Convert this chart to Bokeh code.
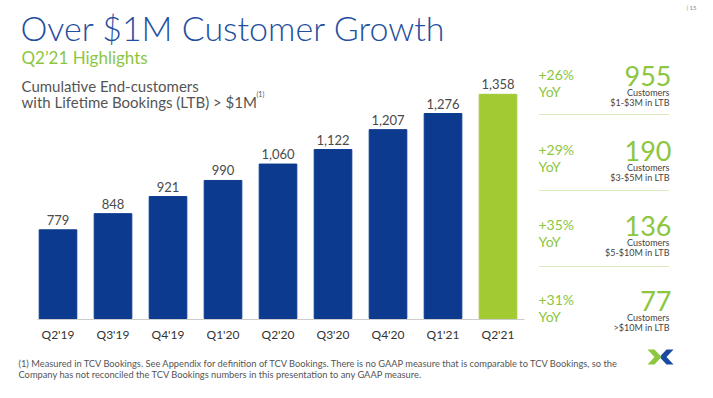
from bokeh.plotting import figure
from bokeh.models import Range1d, Label, Arrow, PolyAnnotation, ColumnDataSource
from bokeh.core.properties import value
from bokeh.embed import file_html
from bokeh.resources import INLINE

# ---- data ----
quarters = ["Q2'19", "Q3'19", "Q4'19", "Q1'20", "Q2'20", "Q3'20", "Q4'20", "Q1'21", "Q2'21"]
customers = [779, 848, 921, 990, 1060, 1122, 1207, 1276, 1358]
value_labels = ["779", "848", "921", "990", "1,060", "1,122", "1,207", "1,276", "1,358"]

growth = ["+26%", "+29%", "+35%", "+31%"]
segment_counts = ["955", "190", "136", "77"]
segment_ranges = ["$1-$3M in LTB", "$3-$5M in LTB", "$5-$10M in LTB", ">$10M in LTB"]

footnote = [
    "(1) Measured in TCV Bookings. See Appendix for definition of TCV Bookings. There is no GAAP measure that is comparable to TCV Bookings, so the",
    "Company has not reconciled the TCV Bookings numbers in this presentation to any GAAP measure.",
]

# ---- style ----
BLUE = "#0B3A8E"
TITLE_BLUE = "#1F50A0"
GREEN = "#8DC63F"
GREEN_BAR = "#A2CA32"
GRAY = "#555555"
FONT = "Lato"
LIGHT = "Lato Light"
BASE = 400

colors = [BLUE] * (len(customers) - 1) + [GREEN_BAR]
src = ColumnDataSource(dict(idx=list(range(len(quarters))), v=customers,
                            lab=value_labels, q=quarters, c=colors))

p = figure(width=697, height=382, x_range=Range1d(8, 705), y_range=Range1d(390, 8),
           output_backend="svg", toolbar_location=None, min_border=0,
           x_axis_location=None, y_axis_location=None, outline_line_color=None)
p.xgrid.visible = False
p.ygrid.visible = False
p.extra_x_ranges = {"bx": Range1d(-1.04545, 11.627)}
p.extra_y_ranges = {"by": Range1d(126.5, 1759)}

p.vbar(x="idx", top="v", bottom=BASE, width=0.684, color="c", source=src,
       x_range_name="bx", y_range_name="by")
p.text(x="idx", y="v", text="lab", source=src, x_range_name="bx", y_range_name="by",
       text_align="center", text_baseline="bottom", y_offset=-5,
       text_font=value(FONT), text_font_size="13px", text_color="#4A4A4A")
p.text(x="idx", y=BASE, text="q", source=src, x_range_name="bx", y_range_name="by",
       text_align="center", text_baseline="top", y_offset=8,
       text_font=value(FONT), text_font_size="12px", text_color="#333333")

# axis line
p.add_layout(Arrow(x_start=45, y_start=327, x_end=532, y_end=327, end=None,
                   line_color="#CCCCCC", line_width=1))


def lab(x, y, text, size, color, font=FONT, align="left"):
    p.add_layout(Label(x=x, y=y, text=text, text_font=font, text_font_size=size,
                       text_color=color, text_align=align, text_baseline="alphabetic"))


lab(28, 35, "Over $1M Customer Growth", "34px", TITLE_BLUE, LIGHT)
lab(29, 65, "Q2\u201921 Highlights", "17px", GREEN)
lab(29, 93, "Cumulative End-customers", "15px", GRAY)
lab(29, 109, "with Lifetime Bookings (LTB) > $1M", "15px", GRAY)
lab(264, 101, "(1)", "7px", GRAY)
lab(704, 15, "| 15", "6px", "#888888", align="right")

for k in range(4):
    off = 75 * k
    lab(546, 82 + off, growth[k], "14px", GREEN)
    lab(546, 99 + off, "YoY", "14px", GREEN)
    lab(679, 83 + off, segment_counts[k], "27px", GREEN, FONT, "right")
    lab(677, 99.5 + off, "Customers", "9px", "#444444", align="right")
    lab(677, 110 + off, segment_ranges[k], "9px", "#444444", align="right")
    if k < 3:
        p.add_layout(Arrow(x_start=547, y_start=122 + 76 * k, x_end=677, y_end=122 + 76 * k,
                           end=None, line_color="#B5D77A", line_width=1, line_dash="1 1"))

lab(26, 371, footnote[0], "9.3px", GRAY)
lab(26, 382, footnote[1], "9.3px", GRAY)

# logo
p.add_layout(PolyAnnotation(xs=[681, 674, 667, 674, 681, 674], ys=[357, 357, 364.5, 372, 372, 364.5],
                            fill_color="#1A4BA0", fill_alpha=1, line_color=None))
p.add_layout(PolyAnnotation(xs=[655, 662, 669, 662, 655, 662], ys=[357, 357, 364.5, 372, 372, 364.5],
                            fill_color=GREEN, fill_alpha=1, line_color=None))

open("out.html", "w").write(file_html(p, INLINE))
